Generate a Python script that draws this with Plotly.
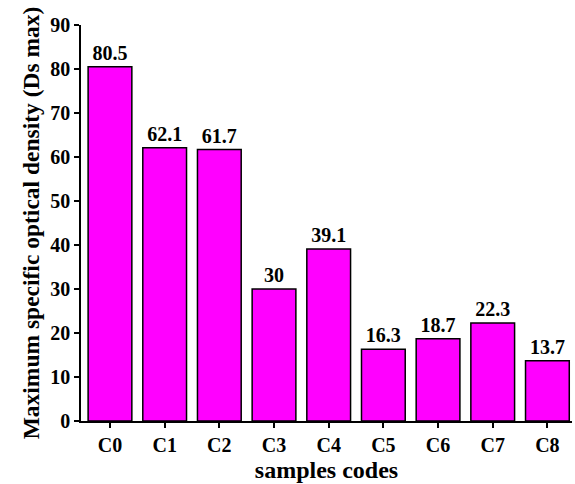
import plotly.graph_objects as go

categories = ["C0", "C1", "C2", "C3", "C4", "C5", "C6", "C7", "C8"]
values = [80.5, 62.1, 61.7, 30, 39.1, 16.3, 18.7, 22.3, 13.7]
labels = ["80.5", "62.1", "61.7", "30", "39.1", "16.3", "18.7", "22.3", "13.7"]
y_ticks = [0, 10, 20, 30, 40, 50, 60, 70, 80, 90]

FONT = "Liberation Serif, Times New Roman, serif"

fig = go.Figure(go.Bar(
    x=list(range(len(categories))), y=values,
    width=0.8,
    marker=dict(color="#FF00FF", line=dict(color="black", width=1.5)),
    text=labels, textposition="outside", cliponaxis=False,
    textfont=dict(family=FONT, size=20, color="black", weight="bold"),
))

fig.update_layout(
    width=575, height=484,
    margin=dict(l=81, r=3, t=25, b=63),
    paper_bgcolor="white", plot_bgcolor="white",
    showlegend=False,
    font=dict(family=FONT, color="black"),
    bargap=0.2,
)
fig.update_xaxes(
    range=[-0.53, 8.45],
    tickvals=list(range(len(categories))), ticktext=categories,
    showline=True, linecolor="black", linewidth=1.5,
    ticks="outside", ticklen=5, tickwidth=1.5, tickcolor="black",
    showgrid=False, zeroline=False,
    tickfont=dict(family=FONT, size=20, weight="bold"),
    title=dict(text="samples codes", font=dict(family=FONT, size=24, weight="bold"), standoff=6),
)
fig.update_yaxes(
    range=[0, 90], tickvals=y_ticks,
    showline=True, linecolor="black", linewidth=1.5,
    ticks="outside", ticklen=5, tickwidth=1.5, tickcolor="black",
    showgrid=False, zeroline=False,
    tickfont=dict(family=FONT, size=20, weight="bold"),
    title=dict(text="Maximum specific optical density (Ds max)", font=dict(family=FONT, size=23.5, weight="bold"), standoff=4),
)

fig.write_html("out.html", config={"displayModeBar": False},
               post_script="document.body.style.margin='0';document.body.style.overflow='hidden';")
